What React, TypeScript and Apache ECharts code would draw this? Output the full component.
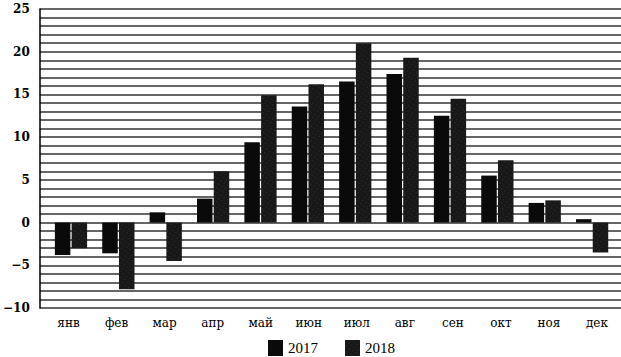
import React, { useEffect, useRef } from "react";
import * as echarts from "echarts";

const months = ["янв", "фев", "мар", "апр", "май", "июн", "июл", "авг", "сен", "окт", "ноя", "дек"];
const values2017 = [-3.8, -3.6, 1.2, 2.8, 9.4, 13.6, 16.5, 17.4, 12.5, 5.5, 2.3, 0.4];
const values2018 = [-3.0, -7.8, -4.5, 6.0, 14.9, 16.2, 21.0, 19.3, 14.5, 7.3, 2.6, -3.5];
const yTicks = [-10, -5, 0, 5, 10, 15, 20, 25];

export default function App() {
  const ref = useRef<HTMLDivElement>(null);
  useEffect(() => {
    if (!ref.current) return;
    const chart = echarts.init(ref.current, undefined, { renderer: "svg" });
    const top = 9;
    const height = 299;
    chart.setOption({
      animation: false,
      backgroundColor: "#ffffff",
      legend: {
        left: 263,
        top: 335,
        itemWidth: 15,
        itemHeight: 16,
        itemGap: 27,
        icon: "rect",
        textStyle: { fontFamily: "Liberation Serif", fontSize: 15, color: "#000" },
        data: ["2017", "2018"],
      },
      grid: [
        { left: 39, top, width: 582, height },
        { left: 47.3, top, width: 568.5, height },
        { left: 44.5, top, width: 578.5, height },
      ],
      xAxis: [
        { type: "category", gridIndex: 0, data: months, show: false },
        { type: "category", gridIndex: 1, data: months, show: false },
        {
          type: "category",
          gridIndex: 2,
          data: months,
          axisLine: { show: false },
          axisTick: { show: false },
          axisLabel: { margin: 9, fontFamily: "DejaVu Serif", fontSize: 12, color: "#000" },
        },
      ],
      yAxis: [
        {
          type: "value",
          gridIndex: 0,
          min: -10,
          max: 25,
          interval: 1,
          axisLine: { show: true, lineStyle: { color: "#000", width: 1.5 } },
          axisTick: { show: false },
          axisLabel: {
            margin: 10,
            fontFamily: "DejaVu Serif",
            fontSize: 12,
            fontWeight: "bold",
            color: "#000",
            formatter: (v: number) =>
              yTicks.includes(v) ? (v < 0 ? "\u2212" + Math.abs(v) : String(v)) : "",
          },
          splitLine: { show: true, lineStyle: { color: "#333", width: 1.6 } },
        },
        { type: "value", gridIndex: 1, min: -10, max: 25, show: false, splitLine: { show: false } },
        { type: "value", gridIndex: 2, min: -10, max: 25, show: false, splitLine: { show: false } },
      ],
      series: [
        {
          name: "2017",
          type: "bar",
          xAxisIndex: 1,
          yAxisIndex: 1,
          data: values2017,
          barWidth: 15.5,
          barGap: "8%",
          itemStyle: { color: "#0a0a0a" },
        },
        {
          name: "2018",
          type: "bar",
          xAxisIndex: 1,
          yAxisIndex: 1,
          data: values2018,
          barWidth: 15.5,
          barGap: "8%",
          itemStyle: {
            color: "#181818",
            decal: {
              symbol: "rect",
              symbolSize: 1,
              color: "rgba(140,140,140,0.22)",
              dashArrayX: [1, 3],
              dashArrayY: [1, 3],
              rotation: 0.6,
            },
          },
        },
      ],
    });
    return () => chart.dispose();
  }, []);
  return <div ref={ref} style={{ position: "fixed", left: 0, top: 0, width: 621, height: 357 }} />;
}
